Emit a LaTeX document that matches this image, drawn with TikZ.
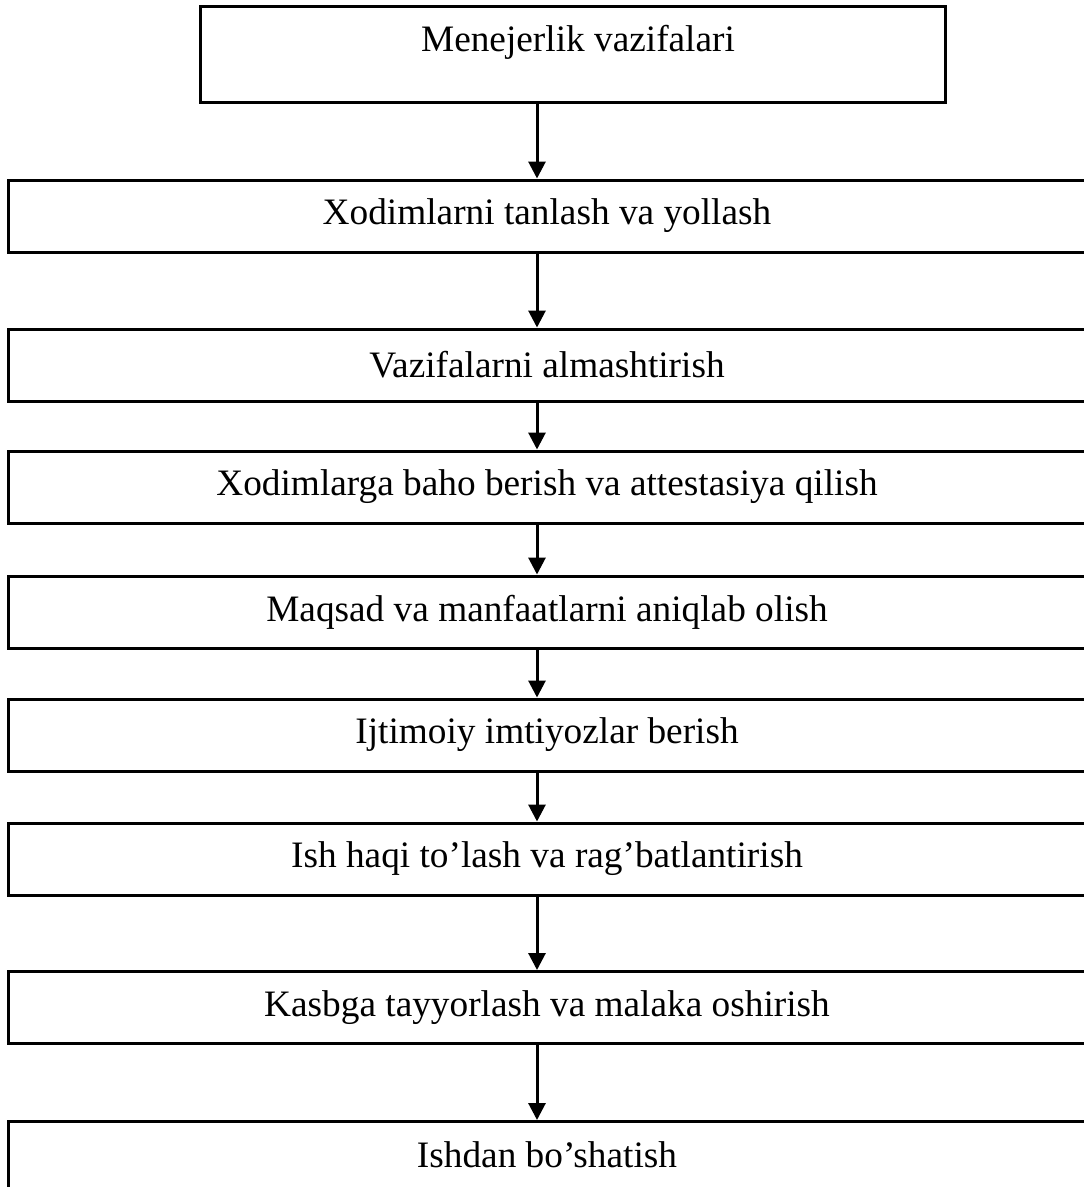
\documentclass[tikz,border=0pt]{standalone}
\usepackage{fontspec}
\setmainfont{Liberation Serif}
\usetikzlibrary{arrows.meta}
\begin{document}
\begin{tikzpicture}[x=1pt,y=-1pt,
  box/.style={draw=black, line width=3pt, minimum width=1078pt, minimum height=72pt, inner sep=0pt,
    font=\fontsize{37.3}{42}\selectfont},
  topbox/.style={box, minimum width=745pt, minimum height=96pt},
  conn/.style={line width=3pt, -{Triangle[length=17pt,width=17pt]}}]
\useasboundingbox (0,0) rectangle (1084,1187);
\coordinate (ax) at (537,0);
\node[topbox] (b1) at (572.5,54) {};
\node at (578,42) {\fontsize{37.3}{42}\selectfont Menejerlik vazifalari};
\node[box] (b2) at (547,216) {Xodimlarni tanlash va yollash};
\node[box] (b3) at (547,365) {Vazifalarni almashtirish};
\node[box] (b4) at (547,487) {Xodimlarga baho berish va attestasiya qilish};
\node[box] (b5) at (547,612) {Maqsad va manfaatlarni aniqlab olish};
\node[box] (b6) at (547,735) {Ijtimoiy imtiyozlar berish};
\node[box] (b7) at (547,859) {Ish haqi to’lash va rag’batlantirish};
\node[box] (b8) at (547,1007.5) {Kasbga tayyorlash va malaka oshirish};
\node[box, anchor=north] (b9) at (547,1120) {};
\node at (547,1155) {\fontsize{37.3}{42}\selectfont Ishdan bo’shatish};
\draw[conn] (b1.south -| ax) -- (b2.north -| ax);
\draw[conn] (b2.south -| ax) -- (b3.north -| ax);
\draw[conn] (b3.south -| ax) -- (b4.north -| ax);
\draw[conn] (b4.south -| ax) -- (b5.north -| ax);
\draw[conn] (b5.south -| ax) -- (b6.north -| ax);
\draw[conn] (b6.south -| ax) -- (b7.north -| ax);
\draw[conn] (b7.south -| ax) -- (b8.north -| ax);
\draw[conn] (b8.south -| ax) -- (b9.north -| ax);
\end{tikzpicture}
\end{document}
